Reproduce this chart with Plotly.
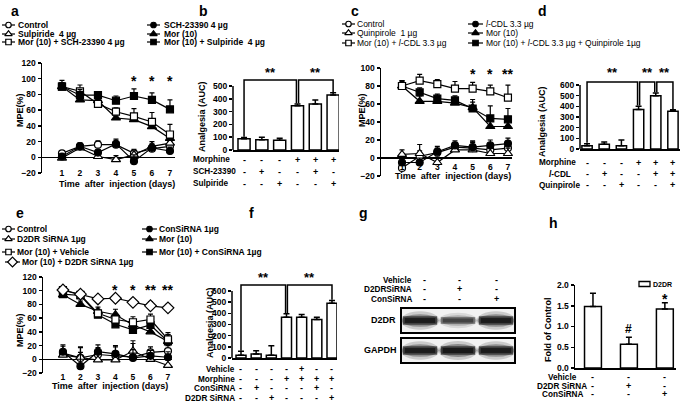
import plotly.graph_objects as go

W, H = 685, 407
FONT = "Liberation Sans, Arial, sans-serif"


def X(px):
    return px / W


def Y(py):
    return 1 - py / H


def dom_x(a, b):
    return [X(a), X(b)]


def dom_y(top, bottom):
    return [Y(bottom), Y(top)]


DAYS = [1, 2, 3, 4, 5, 6, 7]

# ---------------- panel a (MPE %, days) ----------------
a_control = [5, 14, 16, 16, 5, 11, 14]
a_control_err = [3, 4, 5, 4, 5, 4, 6]
a_sulpiride = [-1, 12, 1, -3, 3, 14, 18]
a_sulpiride_err = [3, 5, 6, 5, 5, 6, 6]
a_mor_sch = [90, 84, 68, 58, 52, 45, 29]
a_mor_sch_err = [5, 8, 4, 5, 10, 12, 13]
a_sch = [1, 14, 6, 17, -5, 12, 8]
a_sch_err = [3, 4, 4, 6, 8, 5, 5]
a_mor = [90, 73, 72, 50, 48, 39, 24]
a_mor_err = [5, 5, 4, 4, 6, 8, 8]
a_mor_sulpiride = [90, 79, 79, 72, 78, 73, 61]
a_mor_sulpiride_err = [8, 7, 4, 6, 9, 9, 12]
a_star_days = [5, 6, 7]
a_star_text = ["*", "*", "*"]

# ---------------- panel b (AUC) ----------------
b_auc = [88, 80, 77, 345, 360, 430]
b_auc_err = [10, 20, 15, 15, 30, 18]
b_rows = ["Morphine", "SCH-23390", "Sulpiride"]
b_signs = [["-", "-", "-", "+", "+", "+"],
           ["-", "+", "-", "-", "+", "-"],
           ["-", "-", "+", "-", "-", "+"]]

# ---------------- panel c ----------------
c_control = [-11, 2, 6, 12, 11, 9, 11]
c_control_err = [4, 6, 5, 5, 8, 5, 6]
c_quinpirole = [4, 5, -5, 9, 9, 5, 5]
c_quinpirole_err = [5, 10, 6, 5, 8, 6, 6]
c_mor_lcdl = [80, 86, 82, 77, 77, 74, 67]
c_mor_lcdl_err = [6, 7, 5, 8, 7, 7, 14]
c_lcdl = [-5, -5, 7, 14, 12, 14, 16]
c_lcdl_err = [4, 5, 6, 5, 6, 6, 6]
c_mor = [80, 63, 63, 61, 56, 35, 35]
c_mor_err = [6, 6, 5, 5, 6, 8, 8]
c_mor_lcdl_quin = [80, 73, 66, 64, 55, 44, 43]
c_mor_lcdl_quin_err = [5, 5, 5, 5, 10, 14, 12]
c_star_days = [5, 6, 7]
c_star_text = ["*", "*", "**"]

# ---------------- panel d ----------------
d_auc = [30, 45, 30, 370, 500, 355]
d_auc_err = [20, 20, 55, 30, 25, 12]
d_rows = ["Morphine", "<i>l</i>-CDL", "Quinpirole"]
d_signs = [["-", "-", "-", "+", "+", "+"],
           ["-", "+", "-", "-", "+", "+"],
           ["-", "-", "+", "-", "-", "+"]]

# ---------------- panel e ----------------
e_control = [9, 2, 7, 5, 3, 10, 12]
e_control_err = [10, 15, 10, 15, 20, 8, 8]
e_d2dr_sirna = [6, 3, -1, -1, 12, 0, -9]
e_d2dr_sirna_err = [8, 15, 10, 12, 15, 8, 8]
e_mor_vehicle = [101, 94, 67, 58, 54, 58, 29]
e_mor_vehicle_err = [4, 4, 6, 8, 8, 8, 10]
e_mor_d2dr_sirna = [101, 95, 88, 89, 83, 78, 75]
e_mor_d2dr_sirna_err = [4, 4, 5, 4, 4, 6, 5]
e_con_sirna = [11, -10, 11, 8, 2, 5, 3]
e_con_sirna_err = [10, 20, 10, 10, 12, 8, 8]
e_mor = [94, 80, 70, 65, 50, 40, 26]
e_mor_err = [4, 5, 6, 8, 6, 8, 10]
e_mor_con_sirna = [95, 93, 65, 51, 43, 50, 26]
e_mor_con_sirna_err = [4, 4, 6, 8, 8, 8, 10]
e_star_days = [4, 5, 6, 7]
e_star_text = ["*", "*", "**", "**"]

# ---------------- panel f ----------------
f_auc = [25, 35, 25, 365, 365, 345, 490]
f_auc_err = [35, 30, 85, 30, 25, 20, 25]
f_rows = ["Vehicle", "Morphine", "ConSiRNA", "D2DR SiRNA"]
f_signs = [["-", "-", "-", "-", "+", "-", "-"],
           ["-", "-", "-", "+", "+", "+", "+"],
           ["-", "+", "-", "-", "-", "+", "-"],
           ["-", "-", "+", "-", "-", "-", "+"]]

# ---------------- panel g (western blot) ----------------
g_rows = ["Vehicle", "D2DRSiRNA", "ConSiRNA"]
g_signs = [["-", "-", "-"],
           ["-", "+", "-"],
           ["-", "-", "+"]]
g_d2dr_band = [0.95, 0.6, 0.95]
g_gapdh_band = [0.95, 1.0, 0.95]

# ---------------- panel h ----------------
h_fold = [1.48, 0.57, 1.42]
h_fold_err = [0.32, 0.17, 0.15]
h_marks = ["", "#", "*"]
h_rows = ["Vehicle", "D2DR SiRNA", "ConSiRNA"]
h_signs = [["-", "-", "-"],
           ["-", "+", "-"],
           ["-", "-", "+"]]

STYLE = {
    "oc": ("circle", "white", 7),
    "fc": ("circle", "black", 7),
    "ot": ("triangle-up", "white", 8),
    "ft": ("triangle-up", "black", 8),
    "os": ("square", "white", 7),
    "fs": ("square", "black", 7),
    "od": ("diamond", "white", 9),
}

LEG = 8.5      # legend font
ROW = 8.2      # table row label font
SIGN = 9       # +/- font

fig = go.Figure()
annotations = []
shapes = []


def txt(text, x, y, size=9, bold=True, xanchor="center", yanchor="middle",
        xref="paper", yref="paper", angle=0):
    annotations.append(dict(
        text=text, x=x, y=y, xref=xref, yref=yref, showarrow=False,
        xanchor=xanchor, yanchor=yanchor, textangle=angle, borderpad=0,
        font=dict(family=FONT, size=size, color="black",
                  weight="bold" if bold else "normal")))


def add_series(xa, ya, vals, err, style):
    sym, fill, size = STYLE[style]
    fig.add_trace(go.Scatter(
        x=DAYS, y=vals, mode="lines+markers", xaxis=xa, yaxis=ya,
        line=dict(color="black", width=1.2),
        marker=dict(symbol=sym, size=size, color=fill,
                    line=dict(color="black", width=1.2)),
        error_y=dict(type="data", symmetric=False, array=err,
                     arrayminus=[0] * len(err), color="black",
                     thickness=1.2, width=2.5),
        showlegend=False, cliponaxis=False))


def legend_sample(x0, x1, y, style, label, text_x, bold=True):
    sym, fill, msize = STYLE[style]
    fig.add_trace(go.Scatter(
        x=[x0, x1], y=[y, y], mode="lines", xaxis="x8", yaxis="y8",
        line=dict(color="black", width=1.2), showlegend=False,
        hoverinfo="skip"))
    fig.add_trace(go.Scatter(
        x=[(x0 + x1) / 2], y=[y], mode="markers", xaxis="x8", yaxis="y8",
        marker=dict(symbol=sym, size=msize - 1.5, color=fill,
                    line=dict(color="black", width=1.2)),
        showlegend=False, hoverinfo="skip", cliponaxis=False))
    txt(label, X(text_x), Y(y), size=LEG, bold=bold, xanchor="left")


def add_bars(xa, ya, vals, err, width):
    n = len(vals)
    fig.add_trace(go.Bar(
        x=list(range(n)), y=vals, width=width, xaxis=xa, yaxis=ya,
        marker=dict(color="white", line=dict(color="black", width=1.5)),
        error_y=dict(type="data", symmetric=False, array=err,
                     arrayminus=[0] * n, color="black", thickness=1.5,
                     width=3),
        showlegend=False))


def bracket(xa, ya, i, j, top, vals, err, pad, shift_i=0.0, shift_j=0.0):
    yi = vals[i] + err[i] + pad
    yj = vals[j] + err[j] + pad
    xi = i + shift_i
    xj = j + shift_j
    shapes.append(dict(
        type="path", xref=xa, yref=ya,
        path=f"M {xi},{yi} L {xi},{top} L {xj},{top} L {xj},{yj}",
        line=dict(color="black", width=1.5)))


TICKFONT = dict(family=FONT, size=8.5, color="black", weight="bold")


def line_axes(n, xdom, xr, ydom, yr, ytv, xpos):
    xk = "xaxis" if n == 1 else f"xaxis{n}"
    yk = "yaxis" if n == 1 else f"yaxis{n}"
    xid = "x" if n == 1 else f"x{n}"
    return {
        xk: dict(domain=xdom, range=xr, anchor="free", position=Y(xpos),
                 showline=False, zeroline=False, showgrid=False, ticks="",
                 tickmode="array", tickvals=DAYS, tickfont=TICKFONT,
                 automargin=False, fixedrange=True),
        yk: dict(domain=ydom, range=yr, anchor=xid, showline=True,
                 linecolor="black", linewidth=1.5, ticks="outside",
                 ticklen=3, tickwidth=1.5, tickcolor="black",
                 tickmode="array", tickvals=ytv, zeroline=True,
                 zerolinecolor="black", zerolinewidth=1.5, showgrid=False,
                 tickfont=TICKFONT, automargin=False, fixedrange=True),
    }


def bar_axes(n, xdom, xr, ydom, yr, ytv, showline=False, fmt=None):
    yd = dict(domain=ydom, range=yr, anchor=f"x{n}", showline=showline,
              linecolor="black", linewidth=1.5, ticks="outside", ticklen=3,
              tickwidth=1.5, tickcolor="black", tickmode="array",
              tickvals=ytv, zeroline=False, showgrid=False,
              tickfont=TICKFONT, automargin=False, fixedrange=True)
    if fmt:
        yd["tickformat"] = fmt
    return {
        f"xaxis{n}": dict(domain=xdom, range=xr, anchor=f"y{n}",
                          showline=True, linecolor="black", linewidth=1.5,
                          ticks="", showticklabels=False, zeroline=False,
                          showgrid=False, fixedrange=True, automargin=False),
        f"yaxis{n}": yd,
    }


layout_axes = {}

# ======== panel a ========
layout_axes.update(line_axes(1, dom_x(42, 175), [-0.11, 7.28],
                             dom_y(63, 173), [-20, 120],
                             list(range(-20, 121, 20)), 166))
add_series("x", "y", a_control, a_control_err, "oc")
add_series("x", "y", a_sulpiride, a_sulpiride_err, "ot")
add_series("x", "y", a_sch, a_sch_err, "fc")
add_series("x", "y", a_mor, a_mor_err, "ft")
add_series("x", "y", a_mor_sch, a_mor_sch_err, "os")
add_series("x", "y", a_mor_sulpiride, a_mor_sulpiride_err, "fs")
for d, s in zip(a_star_days, a_star_text):
    txt(s, d, 97, size=14, xref="x", yref="y")
legend_sample(2, 15, 25, "oc", "Control", 17)
legend_sample(2, 15, 34, "ot", "Sulpiride  4 µg", 17)
legend_sample(2, 15, 42, "os", "Mor (10) + SCH-23390 4 µg", 17)
legend_sample(147, 160, 25, "fc", "SCH-23390 4 µg", 163)
legend_sample(147, 160, 34, "ft", "Mor (10)", 163)
legend_sample(147, 160, 42, "fs", "Mor (10) + Sulpiride  4 µg", 163)
txt("MPE(%)", X(20), Y(110), angle=-90)
txt("Time  after  injection (days)", X(117), Y(184))
txt("a", X(15), Y(11), size=14)

# ======== panel b ========
layout_axes.update(bar_axes(2, dom_x(233, 339), [-0.62, 5.33],
                            dom_y(66.8, 150), [0, 650],
                            list(range(0, 501, 100))))
shapes.append(dict(type="line", xref="x2 domain", x0=0, x1=0, yref="y2",
                   y0=0, y1=500, line=dict(color="black", width=1.5)))
add_bars("x2", "y2", b_auc, b_auc_err, 0.68)
bracket("x2", "y2", 0, 3, 547, b_auc, b_auc_err, 5, 0, -0.06)
bracket("x2", "y2", 3, 5, 547, b_auc, b_auc_err, 5, 0.06, 0)
txt("**", 1.5, 607, size=13, xref="x2", yref="y2")
txt("**", 4.0, 607, size=13, xref="x2", yref="y2")
for r, (lab, row) in enumerate(zip(b_rows, b_signs)):
    yy = [160, 172, 184][r]
    txt(lab, X(192), Y(yy), size=ROW, xanchor="left")
    for i, s in enumerate(row):
        txt(s, i, Y(yy), size=SIGN, xref="x2")
txt("Analgesia (AUC)", X(202), Y(117), angle=-90)
txt("b", X(203), Y(11), size=14)

# ======== panel c ========
layout_axes.update(line_axes(3, dom_x(381, 512), [-0.19, 7.23],
                             dom_y(68, 176), [-20, 100],
                             list(range(-20, 101, 20)), 160))
add_series("x3", "y3", c_control, c_control_err, "oc")
add_series("x3", "y3", c_quinpirole, c_quinpirole_err, "ot")
add_series("x3", "y3", c_lcdl, c_lcdl_err, "fc")
add_series("x3", "y3", c_mor, c_mor_err, "ft")
add_series("x3", "y3", c_mor_lcdl_quin, c_mor_lcdl_quin_err, "fs")
add_series("x3", "y3", c_mor_lcdl, c_mor_lcdl_err, "os")
for d, s in zip(c_star_days, c_star_text):
    txt(s, d, 93, size=14, xref="x3", yref="y3")
legend_sample(342, 355, 24, "oc", "Control", 356, bold=False)
legend_sample(342, 355, 33, "ot", "Quinpirole  1 µg", 356, bold=False)
legend_sample(342, 355, 43, "os", "Mor (10) + <i>l</i>-CDL 3.3 µg", 356, bold=False)
legend_sample(468, 483, 24, "fc", "<i>l</i>-CDL 3.3 µg", 485, bold=False)
legend_sample(468, 483, 33, "ft", "Mor (10)", 485, bold=False)
legend_sample(468, 483, 43, "fs", "Mor (10) + <i>l</i>-CDL 3.3 µg + Quinpirole 1µg", 485, bold=False)
txt("MPE(%)", X(362), Y(110), angle=-90)
txt("Time  after  injection (days)", X(453), Y(176))
txt("c", X(355), Y(11), size=14)

# ======== panel d ========
layout_axes.update(bar_axes(4, dom_x(580, 680), [-0.41, 5.41],
                            dom_y(65.8, 149), [0, 780],
                            list(range(0, 601, 100))))
shapes.append(dict(type="line", xref="x4 domain", x0=0, x1=0, yref="y4",
                   y0=0, y1=600, line=dict(color="black", width=1.5)))
add_bars("x4", "y4", d_auc, d_auc_err, 0.6)
bracket("x4", "y4", 0, 3, 628, d_auc, d_auc_err, 8, 0, -0.06)
bracket("x4", "y4", 3, 4, 628, d_auc, d_auc_err, 8, 0.06, -0.06)
bracket("x4", "y4", 4, 5, 628, d_auc, d_auc_err, 8, 0.06, 0)
txt("**", 1.5, 718, size=13, xref="x4", yref="y4")
txt("**", 3.5, 718, size=13, xref="x4", yref="y4")
txt("**", 4.5, 718, size=13, xref="x4", yref="y4")
for r, (lab, row) in enumerate(zip(d_rows, d_signs)):
    yy = [163, 174, 185][r]
    txt(lab, X(538 if r != 1 else 548), Y(yy), size=ROW, xanchor="left")
    for i, s in enumerate(row):
        txt(s, i, Y(yy), size=SIGN, xref="x4")
txt("Analgesia (AUC)", X(542), Y(122), angle=-90)
txt("d", X(542), Y(11), size=14)

# ======== panel e ========
layout_axes.update(line_axes(5, dom_x(43, 172), [-0.14, 7.23],
                             dom_y(277, 373), [-20, 120],
                             list(range(-20, 121, 20)), 370))
add_series("x5", "y5", e_control, e_control_err, "oc")
add_series("x5", "y5", e_d2dr_sirna, e_d2dr_sirna_err, "ot")
add_series("x5", "y5", e_con_sirna, e_con_sirna_err, "fc")
add_series("x5", "y5", e_mor, e_mor_err, "ft")
add_series("x5", "y5", e_mor_con_sirna, e_mor_con_sirna_err, "fs")
add_series("x5", "y5", e_mor_vehicle, e_mor_vehicle_err, "os")
add_series("x5", "y5", e_mor_d2dr_sirna, e_mor_d2dr_sirna_err, "od")
for d, s in zip(e_star_days, e_star_text):
    txt(s, d, 101, size=14, xref="x5", yref="y5")
legend_sample(2, 15, 229, "oc", "Control", 16)
legend_sample(2, 15, 239, "ot", "D2DR SiRNA 1µg", 16)
legend_sample(2, 15, 252, "os", "Mor (10) + Vehicle", 16)
legend_sample(5, 20, 262, "od", "Mor (10) + D2DR SiRNA 1µg", 21)
legend_sample(142, 157, 229, "fc", "ConSiRNA 1µg", 158)
legend_sample(142, 157, 239, "ft", "Mor (10)", 158)
legend_sample(142, 157, 252, "fs", "Mor (10) + ConSiRNA 1µg", 158)
txt("MPE(%)", X(20), Y(330), angle=-90)
txt("Time  after  injection (days)", X(110), Y(386))
txt("e", X(20), Y(213), size=14)

# ======== panel f ========
layout_axes.update(bar_axes(6, dom_x(232, 337), [-0.593, 6.33],
                            dom_y(273.1, 358), [0, 760],
                            list(range(0, 601, 100))))
shapes.append(dict(type="line", xref="x6 domain", x0=0, x1=0, yref="y6",
                   y0=0, y1=600, line=dict(color="black", width=1.5)))
add_bars("x6", "y6", f_auc, f_auc_err, 0.66)
bracket("x6", "y6", 0, 3, 653, f_auc, f_auc_err, 6, 0, -0.06)
bracket("x6", "y6", 3, 6, 653, f_auc, f_auc_err, 6, 0.06, 0)
txt("**", 1.5, 722, size=13, xref="x6", yref="y6")
txt("**", 4.5, 722, size=13, xref="x6", yref="y6")
for r, (lab, row) in enumerate(zip(f_rows, f_signs)):
    yy = [369, 379, 388, 398][r]
    txt(lab, X(236), Y(yy), size=ROW, xanchor="right")
    for i, s in enumerate(row):
        txt(s, i, Y(yy), size=SIGN, xref="x6")
txt("Analgesia (AUC)", X(210), Y(323), angle=-90)
txt("f", X(252), Y(213), size=14)

# ======== panel g (blot) ========
txt("g", X(363), Y(213), size=14)
g_cols = [424, 459, 496]
for r, (lab, row) in enumerate(zip(g_rows, g_signs)):
    yy = [280, 289, 299][r]
    txt(lab, X(413), Y(yy), size=ROW, xanchor="right")
    for c, s in zip(g_cols, row):
        txt(s, X(c), Y(yy), size=SIGN)
for (top, bot, lab, band) in [(308, 333, "D2DR", g_d2dr_band),
                              (338, 363, "GAPDH", g_gapdh_band)]:
    x0b, x1b = 401, 515
    shapes.append(dict(type="rect", xref="paper", yref="paper",
                       x0=X(x0b), x1=X(x1b), y0=Y(bot), y1=Y(top),
                       fillcolor="#f2f2f2", line=dict(color="black", width=2),
                       layer="below"))
    lane_w = (x1b - x0b) / len(band)
    cy = (top + bot) / 2
    for k, inten in enumerate(band):
        cx = x0b + lane_w * (k + 0.5)
        for fw, fh, op, kind in [(1.02, 1.9, 0.18, "circle"),
                                 (0.97, 1.3, 0.35, "circle"),
                                 (0.9, 0.85, 0.65, "rect"),
                                 (0.8, 0.5, 0.8, "rect")]:
            w = lane_w * fw / 2
            h = 5 * fh * (0.55 + 0.45 * inten)
            shapes.append(dict(type=kind, xref="paper", yref="paper",
                               x0=X(cx - w), x1=X(cx + w),
                               y0=Y(cy + h), y1=Y(cy - h),
                               fillcolor="#111111", opacity=op * inten,
                               line=dict(width=0, color="rgba(0,0,0,0)")))
    txt(lab, X(383 if lab == "D2DR" else 380), Y(cy - 1), size=9)

# ======== panel h ========
layout_axes.update(bar_axes(7, dom_x(575, 676), [-0.5, 2.31],
                            dom_y(285, 368), [0, 2.0],
                            [0, 0.5, 1.0, 1.5, 2.0], showline=True,
                            fmt=".1f"))
add_bars("x7", "y7", h_fold, h_fold_err, 0.47)
for i, m in enumerate(h_marks):
    if m:
        txt(m, i, h_fold[i] + h_fold_err[i] + (0.2 if m == "#" else 0.1),
            size=12 if m == "#" else 14, xref="x7", yref="y7")
for r, (lab, row) in enumerate(zip(h_rows, h_signs)):
    yy = [377, 386, 394][r]
    txt(lab, X(562), Y(yy), size=ROW)
    for i, s in enumerate(row):
        txt(s, i, Y(yy), size=SIGN, xref="x7")
shapes.append(dict(type="rect", xref="paper", yref="paper", x0=X(639),
                   x1=X(650), y0=Y(286.5), y1=Y(281.5),
                   line=dict(color="black", width=1.3), fillcolor="white"))
txt("D2DR", X(652), Y(284), size=7, xanchor="left")
txt("Fold of Control", X(548), Y(330), angle=-90)
txt("h", X(553), Y(223), size=14)

# overlay pixel axes (reference pixel coordinates) for legend samples
layout_axes["xaxis8"] = dict(domain=[0, 1], range=[0, W], anchor="y8",
                             visible=False, fixedrange=True, automargin=False)
layout_axes["yaxis8"] = dict(domain=[0, 1], range=[H, 0], anchor="x8",
                             visible=False, fixedrange=True, automargin=False)

fig.update_layout(
    width=W, height=H, margin=dict(l=0, r=0, t=0, b=0, pad=0),
    paper_bgcolor="white", plot_bgcolor="rgba(0,0,0,0)", showlegend=False,
    font=dict(family=FONT, color="black"),
    annotations=annotations, shapes=shapes, bargap=0.3,
    **layout_axes)

fig.write_html(
    "out.html",
    config={"displayModeBar": False, "staticPlot": True},
    post_script="document.body.style.margin='0';"
                "document.body.style.overflow='hidden';")
